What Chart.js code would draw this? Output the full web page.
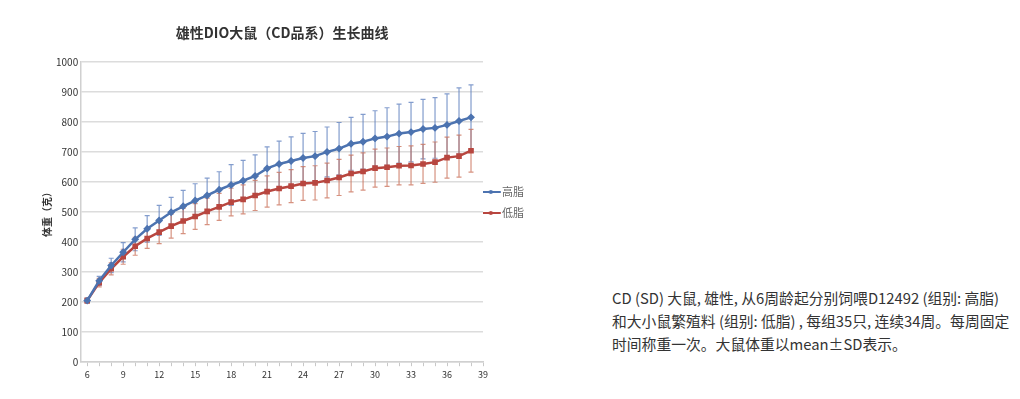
<!DOCTYPE html>
<html>
<head>
<meta charset="utf-8">
<script src="https://cdn.jsdelivr.net/npm/chart.js@4"></script>
<style>
    body { margin: 0; background: #fff; width: 1020px; height: 399px; overflow: hidden; position: relative; }
    #wrap { position: absolute; left: 0; top: 0; width: 538px; height: 399px; }
    .note { position: absolute; left: 612px; top: 286px; font-family: "Noto Sans CJK SC", sans-serif; font-size: 14.8px; line-height: 23px; color: #333; white-space: nowrap; }
</style>
</head>
<body>
<div id="wrap"><canvas id="chart"></canvas></div>
<div class="note">CD (SD) 大鼠, 雄性, 从6周龄起分别饲喂D12492 (组别: 高脂)<br>和大小鼠繁殖料 (组别: 低脂) , 每组35只, 连续34周。每周固定<br>时间称重一次。大鼠体重以mean±SD表示。</div>
<script>
const weeks = [6, 7, 8, 9, 10, 11, 12, 13, 14, 15, 16, 17, 18, 19, 20, 21, 22, 23, 24, 25, 26, 27, 28, 29, 30, 31, 32, 33, 34, 35, 36, 37, 38];
const highFat = [205, 271, 322, 366, 409, 444, 472, 499, 519, 538, 555, 574, 590, 604, 620, 645, 660, 670, 680, 686, 700, 711, 727, 734, 745, 751, 761, 766, 776, 780, 790, 803, 815];
const highFatSD = [8, 15, 24, 32, 38, 44, 50, 50, 53, 56, 58, 60, 68, 68, 70, 72, 76, 80, 82, 82, 83, 87, 88, 91, 92, 96, 98, 99, 99, 101, 103, 110, 108];
const lowFat = [205, 265, 311, 351, 386, 412, 433, 453, 470, 485, 502, 517, 533, 542, 555, 568, 578, 586, 595, 597, 605, 615, 628, 635, 646, 649, 654, 655, 660, 666, 681, 686, 704];
const lowFatSD = [8, 14, 20, 25, 30, 33, 38, 40, 42, 43, 44, 45, 46, 48, 50, 52, 54, 55, 56, 57, 58, 60, 61, 62, 63, 64, 64, 65, 65, 67, 68, 70, 71];
const xTickLabels = [6, 9, 12, 15, 18, 21, 24, 27, 30, 33, 36, 39];
const xMinorTicks = [...weeks, 39];

const font = '"Noto Sans CJK SC", "Noto Sans", sans-serif';

// legend sample: line with a small marker, drawn left of the image centre
function legendIcon(color) {
    const c = document.createElement('canvas');
    c.width = 28;
    c.height = 8;
    const g = c.getContext('2d');
    g.strokeStyle = color;
    g.lineWidth = 2;
    g.beginPath();
    g.moveTo(0, 4);
    g.lineTo(20, 4);
    g.stroke();
    g.fillStyle = color;
    g.beginPath();
    g.arc(10, 4, 2, 0, Math.PI * 2);
    g.fill();
    return c;
}

const errorBars = {
    id: 'errorBars',
    beforeDatasetsDraw(chart) {
        const g = chart.ctx;
        const x = chart.scales.x;
        const y = chart.scales.y;
        const sets = [
            { mean: highFat, sd: highFatSD, color: 'rgba(100, 132, 192, 0.8)' },
            { mean: lowFat, sd: lowFatSD, color: 'rgba(200, 110, 85, 0.75)' }
        ];
        g.save();
        g.lineWidth = 1.2;
        sets.forEach(s => {
            g.strokeStyle = s.color;
            weeks.forEach((w, i) => {
                const px = x.getPixelForValue(w);
                const top = y.getPixelForValue(s.mean[i] + s.sd[i]);
                const bottom = y.getPixelForValue(s.mean[i] - s.sd[i]);
                g.beginPath();
                g.moveTo(px, top);
                g.lineTo(px, bottom);
                g.moveTo(px - 2.5, top);
                g.lineTo(px + 2.5, top);
                g.moveTo(px - 2.5, bottom);
                g.lineTo(px + 2.5, bottom);
                g.stroke();
            });
        });
        g.restore();
    }
};

new Chart(document.querySelector('#chart').getContext('2d'), {
    type: 'line',
    data: {
        datasets: [{
            label: '高脂',
            data: weeks.map((w, i) => ({ x: w, y: highFat[i] })),
            borderColor: '#4c73b0',
            backgroundColor: '#4c73b0',
            borderWidth: 2.5,
            pointStyle: 'rectRot',
            pointRadius: 2.2,
            tension: 0
        }, {
            label: '低脂',
            data: weeks.map((w, i) => ({ x: w, y: lowFat[i] })),
            borderColor: '#b8463f',
            backgroundColor: '#b8463f',
            borderWidth: 2.5,
            pointStyle: 'rect',
            pointRadius: 2.2,
            tension: 0
        }]
    },
    options: {
        responsive: true,
        maintainAspectRatio: false,
        animation: false,
        layout: { padding: { left: 36, top: 8, bottom: 16, right: 4 } },
        plugins: {
            title: {
                display: true,
                fullSize: false,
                text: '雄性DIO大鼠（CD品系）生长曲线',
                color: '#333',
                font: { family: font, size: 14, weight: 'bold' },
                padding: { top: 16, bottom: 21 }
            },
            legend: {
                position: 'right',
                // empty title only to push the two items a little lower
                title: { display: true, text: '', font: { size: 10 }, padding: 1 },
                labels: {
                    color: '#333',
                    font: { family: font, size: 11 },
                    usePointStyle: true,
                    pointStyleWidth: 3.5,
                    padding: 10,
                    generateLabels: () => [
                        { text: '高脂', pointStyle: legendIcon('#4c73b0'), fillStyle: '#4c73b0', strokeStyle: '#4c73b0', lineWidth: 0, datasetIndex: 0 },
                        { text: '低脂', pointStyle: legendIcon('#b8463f'), fillStyle: '#b8463f', strokeStyle: '#b8463f', lineWidth: 0, datasetIndex: 1 }
                    ]
                }
            },
            tooltip: { enabled: false }
        },
        scales: {
            x: {
                type: 'linear',
                min: 5.5,
                max: 39,
                afterBuildTicks: axis => { axis.ticks = xMinorTicks.map(v => ({ value: v })); },
                ticks: {
                    autoSkip: false,
                    maxRotation: 0,
                    color: '#333',
                    font: { family: font, size: 9 },
                    padding: 3,
                    callback: v => xTickLabels.includes(v) ? v : ''
                },
                grid: { drawOnChartArea: false, tickLength: 4, color: '#c8c8c8' },
                border: { color: '#d0d0d0', width: 1.5 }
            },
            y: {
                min: 0,
                max: 1000,
                ticks: {
                    stepSize: 100,
                    color: '#333',
                    font: { family: font, size: 10 },
                    padding: 3,
                    callback: v => v
                },
                grid: { color: '#dcdcdc', lineWidth: 1.5, drawTicks: false },
                border: { color: '#d0d0d0', width: 1.5 },
                title: {
                    display: true,
                    text: '体重（克）',
                    color: '#333',
                    font: { family: font, size: 10, weight: 'bold' },
                    padding: { top: 5, bottom: 0 }
                }
            }
        }
    },
    plugins: [errorBars]
});
</script>
</body>
</html>
